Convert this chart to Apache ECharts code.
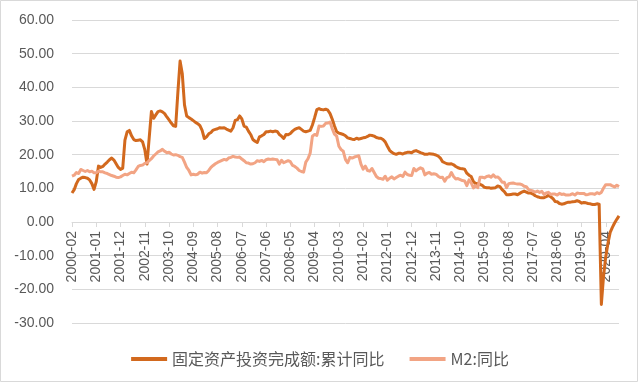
<!DOCTYPE html>
<html>
<head>
<meta charset="utf-8">
<script src="https://cdn.jsdelivr.net/npm/echarts@6/dist/echarts.min.js"></script>
<style>html,body{margin:0;padding:0;background:#fff;}#c{width:640px;height:384px;}</style>
</head>
<body>
<div id="c"></div>
<script>
// Monthly categories 2000-02 .. 2020-10
var startYear = 2000, startMonth = 2, endYear = 2020, endMonth = 10;
var categories = [];
(function () {
  var y = startYear, m = startMonth;
  while (y < endYear || (y === endYear && m <= endMonth)) {
    categories.push(y + '-' + (m < 10 ? '0' + m : '' + m));
    m++; if (m > 12) { m = 1; y++; }
  }
})();

var seriesNames = ['固定资产投资完成额:累计同比', 'M2:同比'];

// 固定资产投资完成额:累计同比 (%)
var fai = [
  8.6, 9.6, 11.4, 12.6, 13.0, 13.3, 13.2, 13.0, 12.5, 11.4, 9.7,
  12.0, 16.6, 16.2, 16.5, 17.2, 17.8, 18.5, 19.0, 18.4, 17.3, 16.2, 15.6,
  16.0, 24.3, 26.8, 27.2, 25.6, 24.5, 24.2, 24.3, 24.4, 23.8, 21.5, 17.2,
  25.0, 32.8, 30.8, 31.8, 32.8, 33.0, 32.7, 32.2, 31.2, 30.3, 29.4, 28.6,
  28.4, 38.5, 47.8, 44.0, 34.8, 31.5, 31.0, 30.6, 30.1, 29.6, 29.2, 28.6,
  27.2, 24.8, 25.3, 26.2, 26.6, 27.3, 27.5, 27.7, 28.0, 27.9, 28.0, 27.6,
  27.3, 27.0, 28.0, 30.2, 30.4, 31.5, 30.6, 28.5, 28.2, 27.0, 26.0, 24.5,
  24.0, 23.6, 25.3, 25.6, 26.0, 26.8, 26.8, 27.0, 26.8, 27.0, 26.9, 26.0,
  25.5, 24.8, 26.0, 25.9, 26.3, 27.0, 27.5, 27.8, 28.0, 27.5, 27.0, 26.8,
  27.0, 27.2, 28.8, 31.0, 33.4, 33.7, 33.4, 33.3, 33.5, 33.2, 32.2, 30.5,
  28.5, 26.8, 26.4, 26.2, 26.0, 25.6, 25.0, 24.8, 24.6, 24.5, 24.9, 24.6,
  24.8, 25.0, 25.1, 25.4, 25.8, 25.7, 25.5, 25.1, 24.9, 24.9, 24.5, 23.8,
  22.5, 21.3, 20.7, 20.3, 20.1, 20.4, 20.4, 20.2, 20.5, 20.7, 20.7, 20.6,
  21.0, 21.2, 20.9, 20.6, 20.4, 20.1, 20.1, 20.3, 20.2, 20.1, 19.9, 19.6,
  19.0, 17.9, 17.6, 17.3, 17.2, 17.3, 17.0, 16.5, 16.1, 15.9, 15.8, 15.7,
  14.5, 13.9, 13.5, 12.0, 11.4, 11.4, 11.2, 10.9, 10.3, 10.2, 10.2, 10.0,
  10.1, 10.2, 10.7, 10.5, 9.6, 9.0, 8.1, 8.1, 8.2, 8.3, 8.3, 8.1,
  8.5, 8.9, 9.2, 8.9, 8.6, 8.6, 8.3, 7.8, 7.5, 7.3, 7.2, 7.2,
  7.5, 7.9, 7.5, 7.0, 6.1, 6.0, 5.5, 5.3, 5.4, 5.7, 5.9, 5.9,
  6.0, 6.1, 6.3, 6.1, 5.6, 5.8, 5.7, 5.5, 5.4, 5.2, 5.2, 5.4,
  5.3, -24.5, -16.1, -10.3, -6.3, -3.1, -1.6, -0.3, 0.8, 1.8
];

// M2:同比 (%)
var m2 = [
  13.6, 13.9, 14.7, 14.4, 15.6, 15.3, 15.0, 15.3, 14.9, 15.1, 14.6,
  14.6, 15.1, 14.9, 14.9, 14.6, 14.4, 14.1, 13.8, 13.6, 13.3, 13.2, 13.4,
  13.8, 14.2, 14.0, 14.4, 14.8, 14.6, 15.5, 16.5, 16.8, 16.9, 17.4, 17.6,
  18.2, 18.8, 19.6, 20.2, 20.8, 21.1, 21.6, 21.0, 20.6, 20.7, 20.2, 19.9,
  20.0, 19.8, 19.4, 19.2, 17.8, 16.2, 15.3, 14.0, 14.2, 14.0, 14.2, 14.8,
  14.5, 14.7, 14.6, 15.3, 16.2, 16.8, 17.3, 17.7, 18.0, 18.3, 18.6, 18.4,
  19.0, 19.2, 19.5, 19.3, 19.2, 19.3, 18.7, 18.2, 17.6, 17.5, 17.2, 17.3,
  17.6, 18.2, 18.0, 18.3, 17.9, 18.5, 18.7, 18.6, 18.7, 18.6, 18.5, 17.2,
  18.3, 17.6, 17.9, 18.2, 17.9, 16.8, 16.5, 16.0, 15.3, 15.0, 14.8, 17.8,
  18.8, 20.5, 25.5, 26.0, 25.7, 28.5, 28.4, 28.5, 29.3, 29.4, 29.7, 27.7,
  26.1, 25.5, 22.5, 21.5, 21.0, 18.5, 17.6, 19.2, 19.0, 19.3, 19.5, 19.7,
  17.2, 15.7, 16.6, 15.3, 15.1, 15.9, 14.7, 13.5, 13.0, 12.9, 12.7, 13.6,
  12.4, 13.0, 13.4, 12.8, 13.2, 13.6, 13.9, 13.5, 14.8, 14.1, 13.9, 13.8,
  15.9, 15.2, 15.7, 16.1, 15.8, 14.0, 14.5, 14.7, 14.2, 14.3, 14.2, 13.6,
  13.2, 13.3, 12.1, 13.2, 13.4, 14.7, 13.5, 12.8, 12.9, 12.6, 12.3, 12.2,
  10.8, 12.5, 11.6, 10.1, 10.8, 10.2, 13.3, 13.3, 13.1, 13.5, 13.7, 13.3,
  14.0, 13.3, 13.4, 12.8, 11.8, 11.8, 10.2, 11.4, 11.5, 11.6, 11.4, 11.3,
  11.3, 11.1, 10.6, 10.5, 9.6, 9.4, 9.2, 8.9, 9.2, 8.8, 9.1, 8.2,
  8.6, 8.8, 8.2, 8.3, 8.3, 8.0, 8.5, 8.2, 8.3, 8.0, 8.0, 8.1,
  8.4, 8.0, 8.6, 8.5, 8.5, 8.5, 8.1, 8.2, 8.4, 8.4, 8.2, 8.7,
  8.4, 8.8, 10.1, 11.1, 11.1, 11.1, 10.7, 10.4, 10.9, 10.5
];

var yMin = -30, yMax = 60, yStep = 10;
var gridTop = 20, gridBottom = 61, chartH = 384;
// distance from the grid bottom (y = yMin) up to the zero line
var zeroOffset = (chartH - gridTop - gridBottom) * (0 - yMin) / (yMax - yMin);

var chart = echarts.init(document.getElementById('c'), null, {renderer: 'canvas'});
chart.setOption({
  animation: false,
  backgroundColor: '#ffffff',
  graphic: [{
    type: 'rect', silent: true,
    shape: {x: 0.5, y: 0.5, width: 637, height: 381},
    style: {fill: 'none', stroke: '#d9d9d9', lineWidth: 1}
  }],
  grid: {left: 72, right: 21, top: gridTop, bottom: gridBottom, containLabel: false},
  legend: {
    data: seriesNames,
    left: 'center',
    top: 346,
    icon: 'rect',
    itemWidth: 36,
    itemHeight: 4,
    itemGap: 25,
    itemStyle: {borderWidth: 0},
    lineStyle: {width: 0},
    textStyle: {color: '#595959', fontSize: 16, fontFamily: '"Noto Sans CJK SC", "Liberation Sans", sans-serif'}
  },
  xAxis: {
    type: 'category',
    data: categories,
    boundaryGap: false,
    offset: -zeroOffset,
    axisLine: {onZero: false, lineStyle: {color: '#d9d9d9', width: 1}},
    axisTick: {show: true, interval: 10, length: 5, inside: false, lineStyle: {color: '#d9d9d9'}},
    axisLabel: {
      interval: 10, rotate: 90, margin: 9,
      color: '#595959', fontSize: 14,
      fontFamily: '"Liberation Sans", Arial, sans-serif'
    },
    splitLine: {show: false}
  },
  yAxis: {
    type: 'value',
    min: yMin, max: yMax, interval: yStep,
    axisLine: {show: false},
    axisTick: {show: false},
    axisLabel: {
      margin: 18, color: '#595959', fontSize: 14,
      fontFamily: '"Liberation Sans", Arial, sans-serif',
      formatter: function (v) { return v.toFixed(2); }
    },
    splitLine: {lineStyle: {color: '#d9d9d9', width: 1}}
  },
  series: [
    {
      name: seriesNames[0], type: 'line', data: fai,
      showSymbol: false, symbol: 'none',
      lineStyle: {color: '#D2691E', width: 3, join: 'round'},
      itemStyle: {color: '#D2691E'}
    },
    {
      name: seriesNames[1], type: 'line', data: m2,
      showSymbol: false, symbol: 'none',
      lineStyle: {color: '#F2A484', width: 3, join: 'round'},
      itemStyle: {color: '#F2A484'}
    }
  ]
});
</script>
</body>
</html>
